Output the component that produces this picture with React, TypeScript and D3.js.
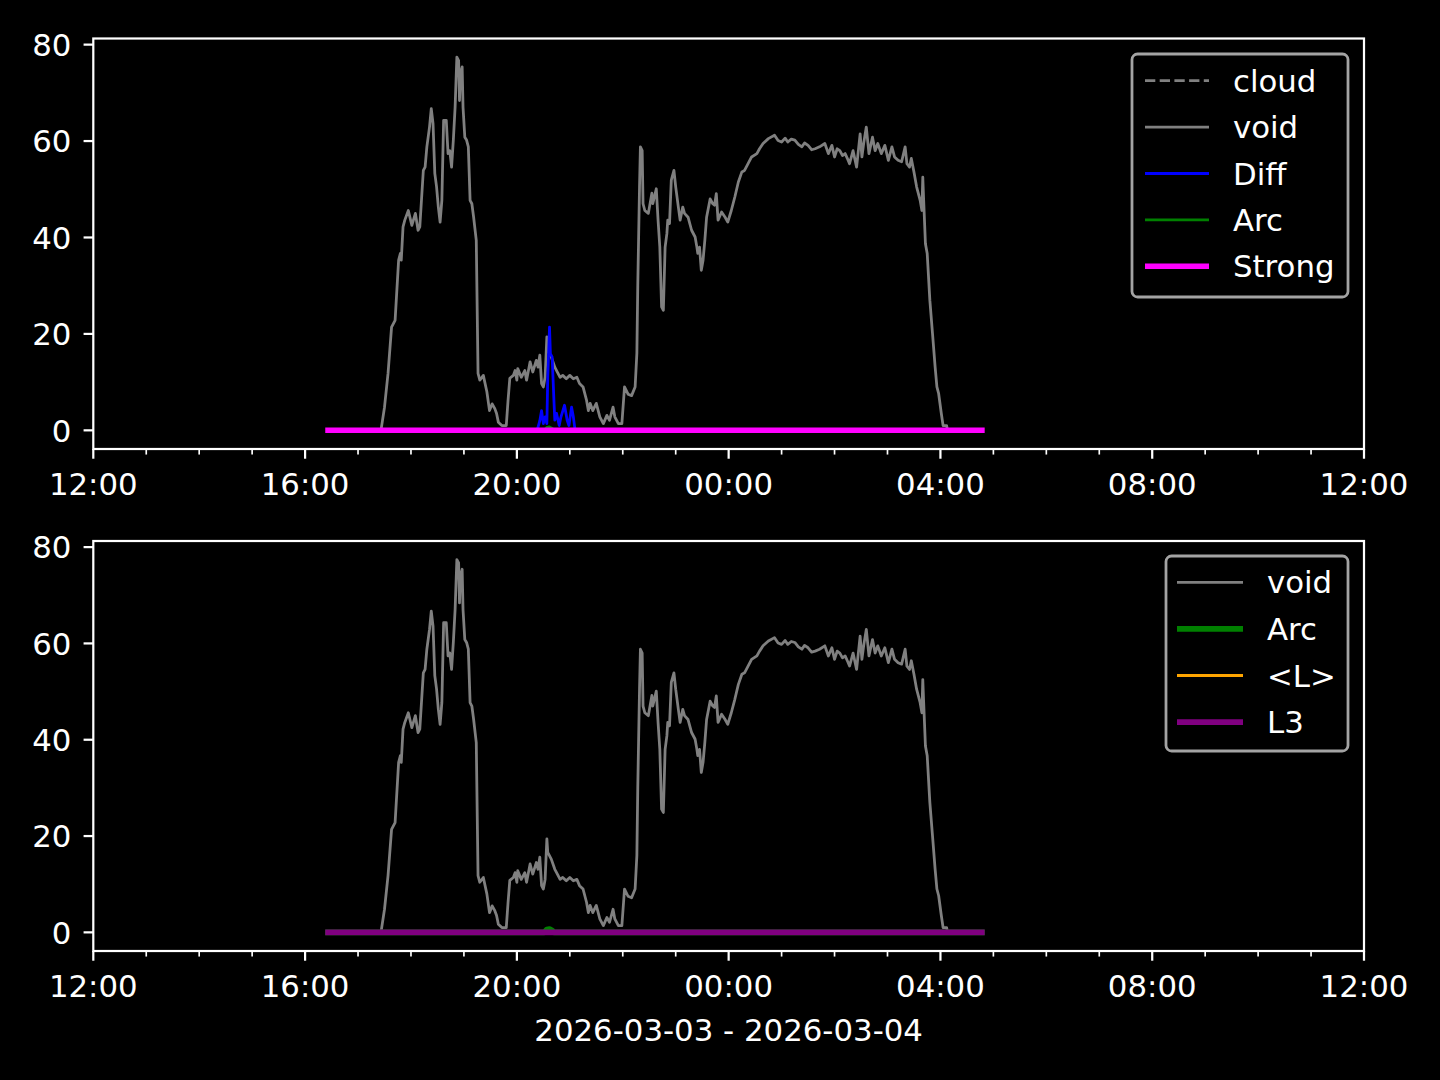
import React from 'react';
import * as d3 from 'd3';

// ---- data (minutes after 2026-03-03 12:00, value) ----
const START_MIN = 266;
const END_MIN = 1007;

const voidSeries: [number, number][] = [
  [266, 0], [326, 0], [330, 4.8], [334, 11.8], [338, 21.4], [342, 22.8], [346, 35.3], [348, 36.7], [349, 35.3],
  [351, 42.2], [353, 43.6], [357, 45.6], [361, 42.5], [365, 45], [368, 41.5], [370, 42.2], [374, 53.9], [376, 54.6],
  [378, 58.8], [381, 62.9], [383, 66.7], [385, 63.6], [387, 53.3], [389, 50.5], [391, 46.3], [393, 43.2], [395, 47.7],
  [397, 64.3], [400, 64.3], [402, 57.4], [404, 58], [406, 54.6], [408, 60.2], [410, 67], [412, 77.4], [414, 76.7],
  [415, 68.4], [416, 74], [418, 75.4], [419, 67], [421, 60.8], [423, 60.2], [425, 58.8], [427, 47.7], [429, 47],
  [431, 44.2], [434, 39.4], [436, 11.8], [438, 10.4], [442, 11.4], [446, 8], [449, 4.1], [452, 5.5], [455, 4.5],
  [457, 3.5], [459, 1.7], [463, 1], [468, 1], [470, 6.2], [472, 10.8], [476, 11.4], [478, 12.4], [480, 10.4],
  [481, 12.8], [485, 11], [489, 12.4], [491, 10.4], [495, 14.2], [498, 12.1], [502, 14.5], [504, 13.1], [506, 15.6],
  [508, 9.7], [510, 9], [512, 11], [514, 19.4], [515, 16.6], [519, 15.2], [523, 13.1], [525, 12.4], [529, 11],
  [532, 11.4], [536, 10.7], [540, 11.4], [544, 10.7], [548, 11], [551, 9.7], [555, 9], [559, 6.2], [561, 4.1],
  [563, 5.6], [566, 4.1], [570, 5.6], [574, 2.8], [578, 1.4], [582, 3.1], [585, 2.1], [589, 4.8], [591, 2.8],
  [595, 1.4], [599, 1.4], [602, 9], [606, 7.5], [610, 7.2], [614, 9], [616, 16], [617, 30], [619, 50.5], [620, 58.8],
  [622, 58], [623, 47], [625, 45.6], [629, 45], [633, 49.2], [634, 47], [638, 50.1], [640, 43.6], [642, 38],
  [644, 25.6], [646, 24.9], [648, 38], [650, 40.8], [651, 43.6], [653, 42.9], [655, 51.9], [658, 53.9], [660, 50.5],
  [663, 46.3], [665, 43.6], [668, 46.3], [670, 45], [674, 44.2], [678, 41.5], [682, 40.1], [684, 38], [685, 36.7],
  [687, 38], [689, 33.2], [691, 35.3], [693, 39.4], [695, 44.2], [699, 48], [702, 47], [704, 46.7], [706, 49.1],
  [708, 43.6], [712, 45.3], [716, 44.2], [719, 43.2], [723, 45.6], [727, 48.4], [731, 51.5], [735, 53.6], [738, 53.9],
  [742, 55.3], [746, 56.7], [752, 57.4], [755, 58.4], [759, 59.5], [765, 60.5], [772, 61.2], [776, 60.1], [780, 59.8],
  [784, 60.6], [787, 59.8], [791, 60.4], [795, 60.2], [799, 59.3], [803, 58.8], [806, 59.6], [810, 59.1], [814, 58.2],
  [818, 58.4], [823, 58.8], [829, 59.5], [833, 57.4], [837, 59.1], [840, 56.7], [843, 58.4], [846, 58], [849, 57],
  [852, 57.4], [855, 56.2], [857, 55.3], [861, 58], [865, 54.6], [869, 61.5], [871, 56.7], [873, 59.5], [876, 62.9],
  [879, 57.4], [883, 60.8], [886, 58], [889, 59.5], [893, 57.4], [897, 59.1], [901, 56], [905, 58.8], [908, 56.7],
  [912, 56], [916, 55.7], [920, 58.8], [922, 55.3], [925, 54.6], [927, 56.4], [930, 53.6], [933, 50.5], [937, 47.7],
  [939, 45.6], [940, 52.5], [941, 47.7], [943, 38.7], [945, 36.7], [948, 27], [951, 20.1], [954, 13.1], [956, 9],
  [958, 7.6], [961, 3.5], [963, 1], [967, 1], [968, 0], [1007, 0],
];

const diffSeries: [number, number][] = [
  [266, 0], [503, 0], [506, 2], [508, 4.1], [510, 1.4], [512, 2.8], [514, 1.4], [515, 11], [517, 21.4], [518, 15.9],
  [520, 15.2], [522, 6.2], [523, 2.1], [525, 3.5], [528, 1], [530, 2.8], [534, 5.2], [537, 2.1], [539, 1], [542, 4.8],
  [544, 2.8], [546, 0], [1007, 0],
];

const arcSeries: [number, number][] = [
  [266, 0], [511, 0], [514, 0.6], [517, 0.7], [520, 0.4], [522, 0], [1007, 0],
];

const zeroSeries: [number, number][] = [[START_MIN, 0], [END_MIN, 0]];

const topLegendLabels = ['cloud', 'void', 'Diff', 'Arc', 'Strong'];
const bottomLegendLabels = ['void', 'Arc', '<L>', 'L3'];
const yTicks = [0, 20, 40, 60, 80];
const xLabel = '2026-03-03 - 2026-03-04';

// ---- layout ----
const W = 1440;
const H = 1080;
const FS = 30.8;
const PX = 200 / 72;
const LEFT = 93.3;
const RIGHT = 1364;
const FONT = 'DejaVu Sans, sans-serif';

const t0 = new Date(2026, 2, 3, 12, 0, 0);
const t1 = new Date(2026, 2, 4, 12, 0, 0);
const toDate = (m: number) => new Date(t0.getTime() + m * 60000);

const x = d3.scaleTime().domain([t0, t1]).range([LEFT, RIGHT]);
const fmt = d3.timeFormat('%H:%M');

type Line = { data: [number, number][]; color: string; lw: number; dash?: string };
type LegendEntry = { label: string; color: string; lw: number; dash?: string };

function Panel({ top, bottom, lines, legend, legendBox, id }: {
  top: number; bottom: number; lines: Line[]; legend: LegendEntry[];
  legendBox: { x: number; y: number; w: number; h: number; row0: number; step: number; hx1: number; hx2: number; tx: number };
  id: string;
}) {
  const y = d3.scaleLinear().domain([-3.87, 81.27]).range([bottom, top]);
  const gen = d3.line<[number, number]>().x(d => x(toDate(d[0]))).y(d => y(d[1]));
  const majors = x.ticks(d3.timeHour.every(4)!);
  const minors = x.ticks(d3.timeHour.every(1)!).filter(t => t.getHours() % 4 !== 0);
  const spine = 0.8 * PX;
  return (
    <g>
      <defs>
        <clipPath id={id}>
          <rect x={LEFT} y={top} width={RIGHT - LEFT} height={bottom - top} />
        </clipPath>
      </defs>
      <g clipPath={`url(#${id})`}>
        {lines.map((l, i) => (
          <path key={i} d={gen(l.data) || ''} fill="none" stroke={l.color} strokeWidth={l.lw * PX}
            strokeDasharray={l.dash} strokeLinejoin="round" strokeLinecap={l.dash ? 'butt' : 'square'} />
        ))}
      </g>
      <rect x={LEFT} y={top} width={RIGHT - LEFT} height={bottom - top} fill="none" stroke="#fff" strokeWidth={spine} />
      {yTicks.map(v => (
        <g key={v}>
          <line x1={LEFT - 3.5 * PX} x2={LEFT} y1={y(v)} y2={y(v)} stroke="#fff" strokeWidth={spine} />
          <text x={LEFT - 7 * PX - 2.5} y={y(v) + 11.2} textAnchor="end" fill="#fff" fontSize={FS} fontFamily={FONT}>{v}</text>
        </g>
      ))}
      {majors.map((t, i) => (
        <g key={'M' + i}>
          <line x1={x(t)} x2={x(t)} y1={bottom} y2={bottom + 3.5 * PX} stroke="#fff" strokeWidth={spine} />
          <text x={x(t)} y={bottom + 46} textAnchor="middle" fill="#fff" fontSize={FS} fontFamily={FONT}>{fmt(t)}</text>
        </g>
      ))}
      {minors.map((t, i) => (
        <line key={'m' + i} x1={x(t)} x2={x(t)} y1={bottom} y2={bottom + 2 * PX} stroke="#fff" strokeWidth={0.6 * PX} />
      ))}
      <rect x={legendBox.x} y={legendBox.y} width={legendBox.w} height={legendBox.h} rx={5.6} ry={5.6}
        fill="#000" stroke="#a3a3a3" strokeWidth={PX} />
      {legend.map((e, i) => {
        const ry = legendBox.row0 + i * legendBox.step;
        return (
          <g key={e.label}>
            <line x1={legendBox.hx1} x2={legendBox.hx2} y1={ry} y2={ry} stroke={e.color} strokeWidth={e.lw * PX}
              strokeDasharray={e.dash} />
            <text x={legendBox.tx} y={ry + 11} fill="#fff" fontSize={FS} fontFamily={FONT}>{e.label}</text>
          </g>
        );
      })}
    </g>
  );
}

export default function App() {
  const GRAY = '#808080';
  const topLines: Line[] = [
    { data: voidSeries, color: GRAY, lw: 1 },
    { data: diffSeries, color: '#0000ff', lw: 1 },
    { data: arcSeries, color: '#008000', lw: 1 },
    { data: zeroSeries, color: '#ff00ff', lw: 2 },
  ];
  const topLegend: LegendEntry[] = [
    { label: topLegendLabels[0], color: GRAY, lw: 1, dash: '10.3,4.4' },
    { label: topLegendLabels[1], color: GRAY, lw: 1 },
    { label: topLegendLabels[2], color: '#0000ff', lw: 1 },
    { label: topLegendLabels[3], color: '#008000', lw: 1 },
    { label: topLegendLabels[4], color: '#ff00ff', lw: 2 },
  ];
  const bottomLines: Line[] = [
    { data: voidSeries, color: GRAY, lw: 1 },
    { data: arcSeries, color: '#008000', lw: 2 },
    { data: zeroSeries, color: '#ffa500', lw: 1 },
    { data: zeroSeries, color: '#800080', lw: 2 },
  ];
  const bottomLegend: LegendEntry[] = [
    { label: bottomLegendLabels[0], color: GRAY, lw: 1 },
    { label: bottomLegendLabels[1], color: '#008000', lw: 2 },
    { label: bottomLegendLabels[2], color: '#ffa500', lw: 1 },
    { label: bottomLegendLabels[3], color: '#800080', lw: 2 },
  ];
  return (
    <svg width={W} height={H} style={{ position: 'absolute', left: 0, top: 0, background: '#000' }}>
      <rect x={0} y={0} width={W} height={H} fill="#000" />
      <Panel id="c1" top={38.5} bottom={449} lines={topLines} legend={topLegend}
        legendBox={{ x: 1132, y: 54, w: 216, h: 243, row0: 80.7, step: 46.4, hx1: 1145, hx2: 1209, tx: 1233 }} />
      <Panel id="c2" top={541} bottom={951} lines={bottomLines} legend={bottomLegend}
        legendBox={{ x: 1166, y: 556, w: 182, h: 195, row0: 582.3, step: 46.6, hx1: 1177, hx2: 1243, tx: 1267 }} />
      <text x={(LEFT + RIGHT) / 2} y={1041} textAnchor="middle" fill="#fff" fontSize={FS} fontFamily={FONT}>{xLabel}</text>
    </svg>
  );
}
